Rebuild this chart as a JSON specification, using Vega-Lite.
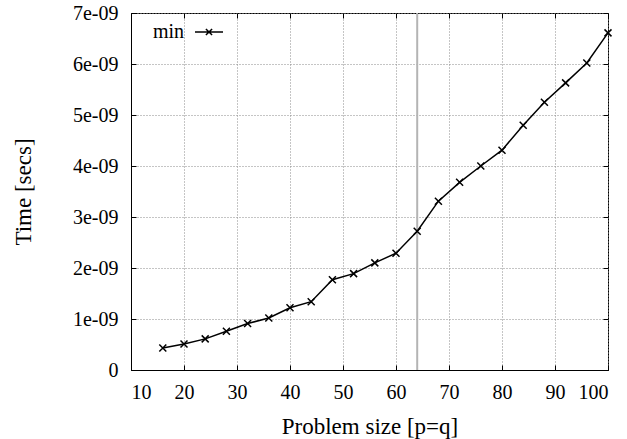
{
  "$schema": "https://vega.github.io/schema/vega-lite/v6.json",
  "width": 477,
  "height": 357,
  "autosize": {"type": "none"},
  "padding": {"left": 131, "top": 13, "right": 19, "bottom": 69},
  "background": "white",
  "config": {
    "view": {"stroke": "black", "strokeWidth": 1},
    "font": "Liberation Serif",
    "axis": {
      "labelFont": "Liberation Serif",
      "labelFontSize": 20,
      "labelColor": "black",
      "titleFont": "Liberation Serif",
      "titleFontSize": 23,
      "titleFontWeight": "normal",
      "titleColor": "black",
      "domainColor": "black",
      "tickColor": "black",
      "gridColor": "#8a8a8a",
      "gridDash": [1, 2],
      "gridWidth": 1
    },
    "legend": {
      "labelFont": "Liberation Serif",
      "labelFontSize": 20,
      "labelColor": "black"
    }
  },
  "datasets": {
    "perf": [
      {"p": 16, "t": 4.3e-10, "series": "min"},
      {"p": 20, "t": 5.1e-10, "series": "min"},
      {"p": 24, "t": 6.1e-10, "series": "min"},
      {"p": 28, "t": 7.6e-10, "series": "min"},
      {"p": 32, "t": 9.1e-10, "series": "min"},
      {"p": 36, "t": 1.02e-9, "series": "min"},
      {"p": 40, "t": 1.22e-9, "series": "min"},
      {"p": 44, "t": 1.34e-9, "series": "min"},
      {"p": 48, "t": 1.77e-9, "series": "min"},
      {"p": 52, "t": 1.89e-9, "series": "min"},
      {"p": 56, "t": 2.1e-9, "series": "min"},
      {"p": 60, "t": 2.29e-9, "series": "min"},
      {"p": 64, "t": 2.72e-9, "series": "min"},
      {"p": 68, "t": 3.31e-9, "series": "min"},
      {"p": 72, "t": 3.68e-9, "series": "min"},
      {"p": 76, "t": 4.0e-9, "series": "min"},
      {"p": 80, "t": 4.31e-9, "series": "min"},
      {"p": 84, "t": 4.8e-9, "series": "min"},
      {"p": 88, "t": 5.25e-9, "series": "min"},
      {"p": 92, "t": 5.63e-9, "series": "min"},
      {"p": 96, "t": 6.02e-9, "series": "min"},
      {"p": 100, "t": 6.61e-9, "series": "min"}
    ],
    "marker": [{"p": 64}]
  },
  "resolve": {"axis": {"x": "independent", "y": "independent"}},
  "layer": [
    {
      "data": {"name": "marker"},
      "mark": {"type": "rule", "color": "#b4b4b4", "strokeWidth": 2},
      "encoding": {
        "x": {"field": "p", "type": "quantitative", "axis": null,
              "scale": {"domain": [10, 100], "nice": false}}
      }
    },
    {
      "data": {"name": "perf"},
      "mark": {"type": "line", "strokeWidth": 1.5},
      "encoding": {
        "x": {"field": "p", "type": "quantitative",
              "scale": {"domain": [10, 100], "nice": false},
              "axis": {"title": "Problem size [p=q]", "values": [10,20,30,40,50,60,70,80,90,100],
                       "labelFont": "Times New Roman", "labelFontSize": 20,
                       "grid": true, "tickSize": -5, "labelPadding": 17,
                       "titleY": 63, "titleBaseline": "alphabetic"}},
        "y": {"field": "t", "type": "quantitative",
              "scale": {"domain": [0, 7e-9], "nice": false},
              "axis": {"title": "Time [secs]", "values": [0, 1e-9, 2e-9, 3e-9, 4e-9, 5e-9, 6e-9, 7e-9],
                       "labelExpr": "datum.value == 0 ? '0' : round(datum.value * 1e9) + 'e-09'",
                       "labelFont": "Times New Roman", "labelFontSize": 20,
                       "grid": true, "tickSize": -5, "labelPadding": 18,
                       "titleX": -108, "titleY": 178.5, "titleBaseline": "middle", "titleAngle": -90}},
        "color": {"field": "series", "type": "nominal",
                  "scale": {"domain": ["min"], "range": ["black"]},
                  "legend": {"title": null, "orient": "none", "legendX": 63, "legendY": 4,
                             "labelFont": "Times New Roman", "labelFontSize": 20,
                             "symbolType": "M-1,0L1,0M-0.22,-0.22L0.22,0.22M-0.22,0.22L0.22,-0.22",
                             "symbolSize": 784, "symbolStrokeWidth": 1.5,
                             "symbolStrokeColor": "black", "symbolFillColor": "transparent",
                             "labelAlign": "right", "labelOffset": -40}}
      }
    },
    {
      "data": {"name": "perf"},
      "mark": {"type": "point", "shape": "M-1,-1L1,1M-1,1L1,-1", "size": 49,
               "filled": false, "color": "black", "strokeWidth": 1.5, "opacity": 1},
      "encoding": {
        "x": {"field": "p", "type": "quantitative",
              "scale": {"domain": [10, 100], "nice": false},
              "axis": {"orient": "top", "title": null, "labels": false, "grid": false, "domain": false,
                       "values": [10,20,30,40,50,60,70,80,90,100], "tickSize": -5}},
        "y": {"field": "t", "type": "quantitative",
              "scale": {"domain": [0, 7e-9], "nice": false},
              "axis": {"orient": "right", "title": null, "labels": false, "grid": false, "domain": false,
                       "values": [0, 1e-9, 2e-9, 3e-9, 4e-9, 5e-9, 6e-9, 7e-9], "tickSize": -5}}
      }
    }
  ]
}
